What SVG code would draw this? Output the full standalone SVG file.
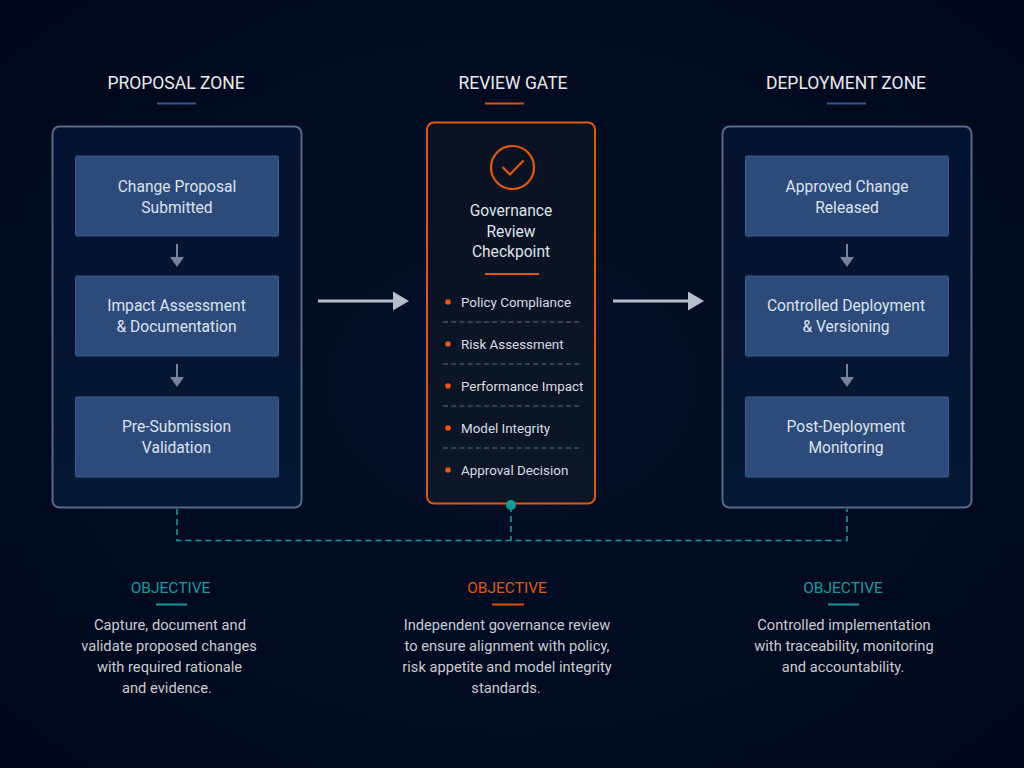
<svg xmlns="http://www.w3.org/2000/svg" width="1024" height="768" viewBox="0 0 1024 768">
<style>
text{font-family:Roboto,"Liberation Sans",sans-serif;text-anchor:middle}
.h{font-size:17.500px;fill:#e8ebef}
.n{font-size:15.600px;fill:#dde3ec}
.zone{fill:url(#zoneFill);stroke:#56698a;stroke-width:2}
.box{fill:#2c4b7a;stroke:#3d5c8c;stroke-width:1}
.a{fill:#76839b}
.as{stroke:#76839b;stroke-width:2;fill:none}
.big{stroke:#b6bcc8;stroke-width:3;fill:none}
.bigh{fill:#b6bcc8}
.rule{stroke-width:2;fill:none}
.li{font-size:13.400px;fill:#d9dde3;text-anchor:start}
.dot{fill:#e8590f}
.sep{stroke:#5f6b7c;stroke-width:1.2;stroke-dasharray:5 3.2;fill:none}
.link{stroke:#169a9c;stroke-width:1.6;stroke-dasharray:6 4;fill:none}
.o{font-size:15.500px}
.d{font-size:14.700px;fill:#c9ccd1}
</style>
<defs>
<linearGradient id="zoneFill" x1="0" y1="0" x2="0" y2="1"><stop offset="0" stop-color="#041330"/><stop offset="1" stop-color="#061833"/></linearGradient>
<linearGradient id="gateFill" x1="0" y1="0" x2="0" y2="1"><stop offset="0" stop-color="#0a1222"/><stop offset="1" stop-color="#0e1727"/></linearGradient>
<radialGradient id="bg" cx="50%" cy="50%" r="70%"><stop offset="0" stop-color="#031028"/><stop offset="1" stop-color="#01071a"/></radialGradient>
</defs>
<rect width="1024" height="768" fill="url(#bg)"/>

<g id="proposal-zone">
<text class="h" x="176" y="89">PROPOSAL ZONE</text>
<path d="M157 103.500H196" class="rule" stroke="#35568a"/>
<rect class="zone" x="52.500" y="126.500" width="249" height="381" rx="7"/>
</g>
<g id="change-proposal"><rect class="box" x="75.500" y="156" width="203" height="80" rx="1.500"/><text class="n" x="177" y="192">Change Proposal</text><text class="n" x="177" y="213">Submitted</text></g>
<g id="impact-assessment"><rect class="box" x="75.500" y="276" width="203" height="80" rx="1.500"/><text class="n" x="176.500" y="311">Impact Assessment</text><text class="n" x="176.500" y="332">&amp; Documentation</text></g>
<g id="pre-submission"><rect class="box" x="75.500" y="397" width="203" height="80" rx="1.500"/><text class="n" x="176.500" y="432">Pre-Submission</text><text class="n" x="176.500" y="453">Validation</text></g>

<g id="review-gate">
<text class="h" x="513" y="89">REVIEW GATE</text>
<path d="M485 103.500H524" class="rule" stroke="#d9530f"/>
<rect x="427" y="122.500" width="168" height="381" rx="7" fill="url(#gateFill)" stroke="#e0590f" stroke-width="2"/>
<circle cx="512.500" cy="167.500" r="21.500" fill="none" stroke="#e0590f" stroke-width="2.200"/>
<path d="M502.500 167L510 174.500L523.500 160.500" fill="none" stroke="#e0590f" stroke-width="2.200"/>
<text class="n" x="511" y="216">Governance</text>
<text class="n" x="511" y="236.500">Review</text>
<text class="n" x="511" y="257">Checkpoint</text>
<path d="M485 274H539" class="rule" stroke="#d9530f"/>
<circle class="dot" cx="448" cy="302" r="2.800"/><text class="li" x="461" y="307">Policy Compliance</text>
<path class="sep" d="M443 322H580"/>
<circle class="dot" cx="448" cy="344" r="2.800"/><text class="li" x="461" y="349">Risk Assessment</text>
<path class="sep" d="M443 364H580"/>
<circle class="dot" cx="448" cy="386" r="2.800"/><text class="li" x="461" y="391">Performance Impact</text>
<path class="sep" d="M443 406H580"/>
<circle class="dot" cx="448" cy="428" r="2.800"/><text class="li" x="461" y="433">Model Integrity</text>
<path class="sep" d="M443 448H580"/>
<circle class="dot" cx="448" cy="470" r="2.800"/><text class="li" x="461" y="475">Approval Decision</text>
</g>

<g id="deployment-zone">
<text class="h" x="846" y="89">DEPLOYMENT ZONE</text>
<path d="M827 103.500H866" class="rule" stroke="#35568a"/>
<rect class="zone" x="722.500" y="126.500" width="249" height="381" rx="7"/>
</g>
<g id="approved-change"><rect class="box" x="745.500" y="156" width="203" height="80" rx="1.500"/><text class="n" x="847" y="192">Approved Change</text><text class="n" x="847" y="213">Released</text></g>
<g id="controlled-deployment"><rect class="box" x="745.500" y="276" width="203" height="80" rx="1.500"/><text class="n" x="846" y="311">Controlled Deployment</text><text class="n" x="846" y="332">&amp; Versioning</text></g>
<g id="post-deployment"><rect class="box" x="745.500" y="397" width="203" height="80" rx="1.500"/><text class="n" x="846" y="432">Post-Deployment</text><text class="n" x="846" y="453">Monitoring</text></g>

<g id="objective-proposal">
<text class="o" x="170.500" y="593" fill="#169a9c">OBJECTIVE</text>
<path d="M156 604.500H187" class="rule" stroke="#169a9c"/>
<text class="d" x="170" y="630">Capture, document and</text>
<text class="d" x="169" y="651">validate proposed changes</text>
<text class="d" x="169.500" y="672">with required rationale</text>
<text class="d" x="167" y="693">and evidence.</text>
</g>
<g id="objective-review">
<text class="o" x="507" y="593" fill="#e0590f">OBJECTIVE</text>
<path d="M492 604.500H524" class="rule" stroke="#d9530f"/>
<text class="d" x="507" y="630">Independent governance review</text>
<text class="d" x="507" y="651">to ensure alignment with policy,</text>
<text class="d" x="507" y="672">risk appetite and model integrity</text>
<text class="d" x="506" y="693">standards.</text>
</g>
<g id="objective-deployment">
<text class="o" x="843" y="593" fill="#169a9c">OBJECTIVE</text>
<path d="M828 604.500H859" class="rule" stroke="#169a9c"/>
<text class="d" x="844" y="630">Controlled implementation</text>
<text class="d" x="844" y="651">with traceability, monitoring</text>
<text class="d" x="843" y="672">and accountability.</text>
</g>

<g id="connectors">
<path class="link" d="M177 509V540.500H847V509"/>
<path class="link" d="M511 506V540"/>
<path class="big" d="M318 301H394"/><path class="bigh" d="M393 291.500L409 301L393 310.500Z"/>
<path class="big" d="M613 301H689"/><path class="bigh" d="M688 291.500L704 301L688 310.500Z"/>
<path class="as" d="M177 244V259"/><path class="a" d="M170 257H184L177 267Z"/>
<path class="as" d="M177 364V379"/><path class="a" d="M170 377H184L177 387Z"/>
<path class="as" d="M847 244V259"/><path class="a" d="M840 257H854L847 267Z"/>
<path class="as" d="M847 364V379"/><path class="a" d="M840 377H854L847 387Z"/>
<circle cx="511" cy="505" r="5" fill="#169a9c"/>
</g>
</svg>
